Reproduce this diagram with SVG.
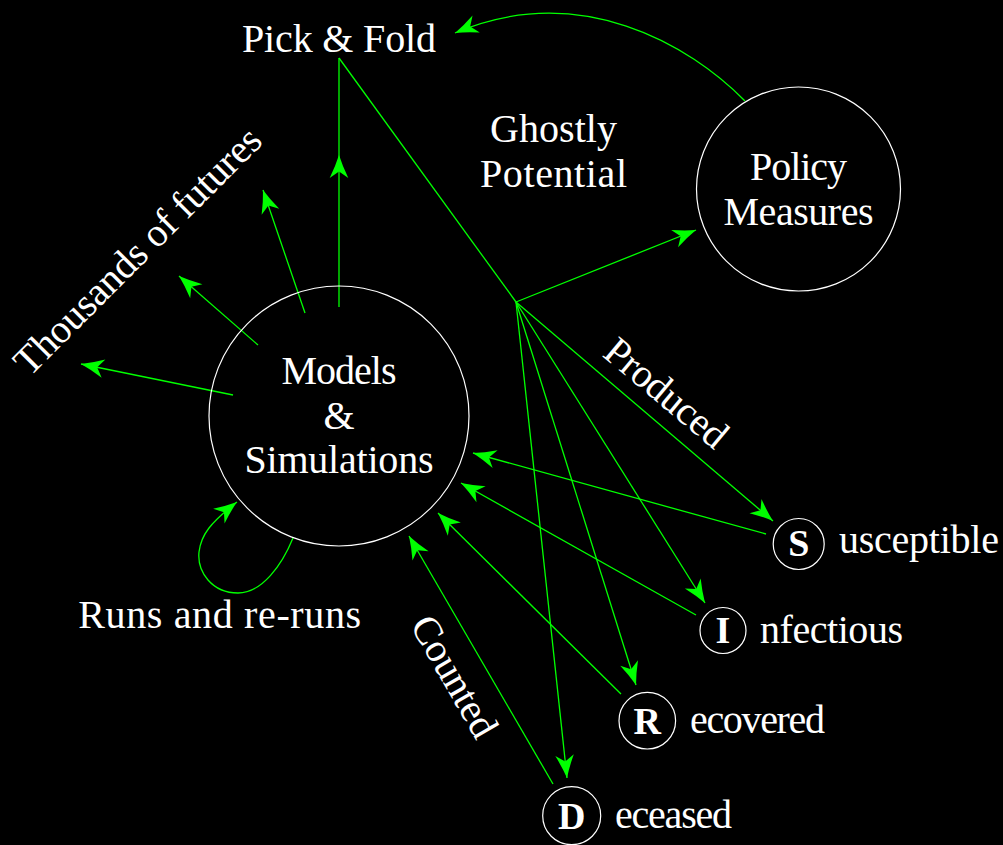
<svg xmlns="http://www.w3.org/2000/svg" width="1003" height="845" viewBox="0 0 1003 845">
  <style>
    .t { font-family: "Liberation Serif", "Times New Roman", serif; font-size: 40px; fill: #ffffff; }
    .b { font-weight: bold; font-size: 38px; }
    .c { fill: none; stroke: #ffffff; stroke-width: 1.2; }
    .e { fill: none; stroke: #00ff00; stroke-width: 1.3; }
    .a { marker-end: url(#ah); }
  </style>
  <defs>
    <marker id="ah" markerUnits="userSpaceOnUse" markerWidth="24" markerHeight="20" viewBox="0 0 24 20" refX="23" refY="10" orient="auto" overflow="visible">
      <path d="M23,10 Q12,6.5 0,0.7 L6.5,10 L0,19.3 Q12,13.5 23,10 Z" fill="#00ff00"/>
    </marker>
  </defs>
  <rect width="1003" height="845" fill="#000000"/>

  <g id="connectors">
    <!-- Models outward: thousands of futures -->
    <line class="e a" x1="233" y1="395" x2="81" y2="364"/>
    <line class="e a" x1="258" y1="345" x2="179" y2="276"/>
    <line class="e a" x1="305" y1="313" x2="263" y2="190"/>
    <line class="e a" x1="339" y1="307" x2="339" y2="155"/>
    <line class="e" x1="339" y1="155" x2="339" y2="58"/>
    <!-- Pick & Fold to Ghostly Potential point -->
    <line class="e" x1="339" y1="58" x2="516" y2="302"/>
    <!-- fan from Ghostly Potential point -->
    <line class="e a" x1="516" y1="302" x2="696" y2="230"/>
    <line class="e a" x1="516" y1="302" x2="773" y2="521"/>
    <line class="e a" x1="516" y1="302" x2="705" y2="603"/>
    <line class="e a" x1="516" y1="302" x2="636" y2="685"/>
    <line class="e a" x1="516" y1="302" x2="567" y2="778"/>
    <!-- counted back to Models -->
    <line class="e a" x1="766" y1="534" x2="473" y2="453"/>
    <line class="e a" x1="696" y1="615" x2="461" y2="483"/>
    <line class="e a" x1="621" y1="694" x2="438" y2="513"/>
    <line class="e a" x1="553" y1="784" x2="409" y2="536"/>
    <!-- Policy Measures back to Pick & Fold -->
    <path class="e a" d="M745,101 C690,45 580,-20 455,33"/>
    <!-- Runs and re-runs loop -->
    <path class="e a" d="M293,538 C282,565 262,593 238,593 C212,593 197,572 199,552 C201,535 210,523 237,502"/>
  </g>

  <g id="models">
    <circle class="c" cx="339" cy="416" r="130"/>
    <text class="t" x="339" y="384" text-anchor="middle" textLength="115">Models</text>
    <text class="t" x="339" y="429" text-anchor="middle">&amp;</text>
    <text class="t" x="339" y="473" text-anchor="middle" textLength="189">Simulations</text>
  </g>

  <g id="policy">
    <circle class="c" cx="798.5" cy="189" r="102"/>
    <text class="t" x="798.5" y="180" text-anchor="middle" textLength="97">Policy</text>
    <text class="t" x="798.5" y="225" text-anchor="middle" textLength="150">Measures</text>
  </g>

  <g id="pickfold">
    <text class="t" x="339" y="52" text-anchor="middle" textLength="194">Pick &amp; Fold</text>
  </g>

  <g id="ghostly">
    <text class="t" x="553.5" y="142" text-anchor="middle" textLength="127">Ghostly</text>
    <text class="t" x="553.5" y="187" text-anchor="middle" textLength="147">Potential</text>
  </g>

  <g id="thousands">
    <text class="t" transform="translate(147,260) rotate(-45)" text-anchor="middle" textLength="332">Thousands of futures</text>
  </g>

  <g id="produced">
    <text class="t" transform="translate(658,403) rotate(40)" text-anchor="middle" textLength="148">Produced</text>
  </g>

  <g id="counted">
    <text class="t" transform="translate(443,683) rotate(60)" text-anchor="middle" textLength="134">Counted</text>
  </g>

  <g id="runs">
    <text class="t" x="219.7" y="628" text-anchor="middle" textLength="283">Runs and re-runs</text>
  </g>

  <g id="susceptible">
    <circle class="c" cx="798.7" cy="544" r="25.5"/>
    <text class="t b" x="798.7" y="556" text-anchor="middle">S</text>
    <text class="t" x="839" y="553" textLength="160">usceptible</text>
  </g>

  <g id="infectious">
    <circle class="c" cx="723" cy="630.5" r="23"/>
    <text class="t b" x="723" y="643" text-anchor="middle">I</text>
    <text class="t" x="760" y="643" textLength="143">nfectious</text>
  </g>

  <g id="recovered">
    <circle class="c" cx="647.3" cy="720.7" r="28.3"/>
    <text class="t b" x="647.3" y="734" text-anchor="middle">R</text>
    <text class="t" x="690" y="733" textLength="135">ecovered</text>
  </g>

  <g id="deceased">
    <circle class="c" cx="571.7" cy="815.7" r="29"/>
    <text class="t b" x="571.7" y="829" text-anchor="middle">D</text>
    <text class="t" x="615" y="828" textLength="117">eceased</text>
  </g>
</svg>
